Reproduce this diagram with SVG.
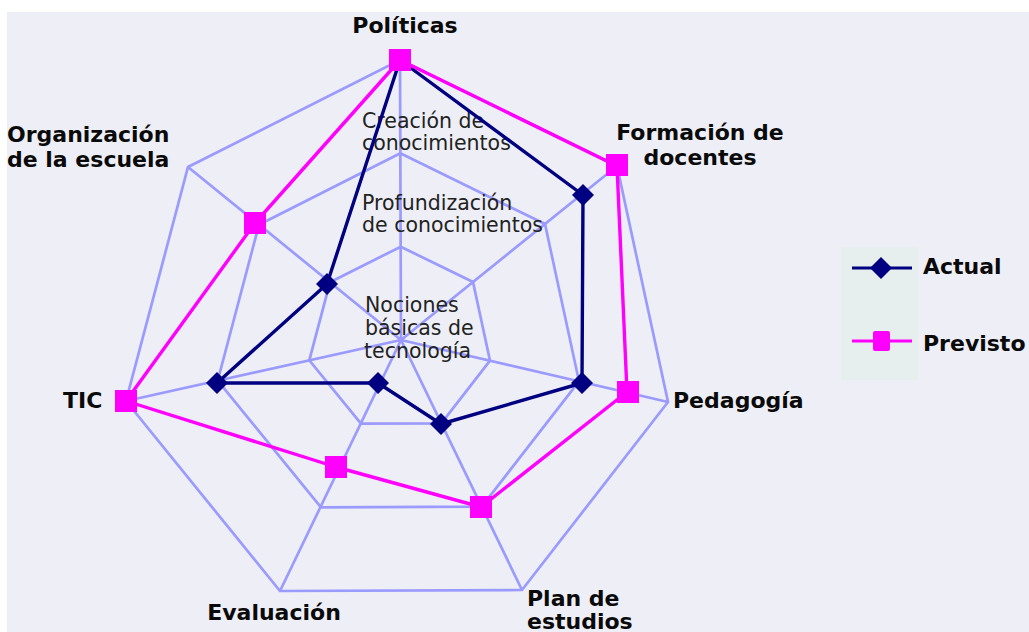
<svg xmlns="http://www.w3.org/2000/svg" width="1029" height="632" viewBox="0 0 1029 632">
<defs>
<style>
.grid{fill:none;stroke:#9a9aff;stroke-width:2.7;stroke-linejoin:miter}
.act{fill:none;stroke:#000080;stroke-width:3.4;stroke-linejoin:round}
.prev{fill:none;stroke:#ff00ff;stroke-width:3.4;stroke-linejoin:round}
.lab{font-family:"DejaVu Sans",Verdana,sans-serif;font-weight:bold;font-size:22px;fill:#0a0a0a}
.lvl{font-family:"DejaVu Sans",Verdana,sans-serif;font-size:20.5px;fill:#222}
</style>
<path id="dia" d="M0,-11 L11,0 L0,11 L-11,0 Z" fill="#000080"/>
<rect id="sq" x="-11" y="-11" width="22" height="22" fill="#ff00ff"/>
</defs>
<rect x="0" y="0" width="1029" height="632" fill="#ffffff"/>
<rect x="7" y="12" width="1022" height="620" fill="#eeeff6"/>

<g id="grid">
<polygon class="grid" points="400,60 617,166 668,402 522,590 280,591 126,401 188,167"/>
<polygon class="grid" points="400.3,153.3 545,224 579,381.3 481.7,506.7 321,507.3 217.7,380.7 259,224.7"/>
<polygon class="grid" points="400.7,246.7 473,282 490,360.7 441.3,423.3 361,423.7 309.3,360.3 330,282.3"/>
<path class="grid" d="M401,340 L400,60 M401,340 L617,166 M401,340 L668,402 M401,340 L522,590 M401,340 L280,591 M401,340 L126,401 M401,340 L188,167"/>
</g>

<g id="level-labels">
<text class="lvl" x="362" y="128">Creación de</text>
<text class="lvl" x="362" y="150">conocimientos</text>
<text class="lvl" x="362" y="210">Profundización</text>
<text class="lvl" x="362" y="232">de conocimientos</text>
<text class="lvl" x="365" y="312">Nociones</text>
<text class="lvl" x="365" y="335">básicas de</text>
<text class="lvl" x="364" y="358">tecnología</text>
</g>

<g id="connectors">
<polygon id="actual-line" class="act" points="400,60 583,195 582,383 441,424 378,383 217,383 327,284"/>
<polygon id="previsto-line" class="prev" points="400,60 617,166 627,392 481,507 336,467 126,401 255,223"/>
</g>

<g id="actual-markers">
<use href="#dia" x="583" y="195"/>
<use href="#dia" x="582" y="383"/>
<use href="#dia" x="441" y="424"/>
<use href="#dia" x="378" y="383"/>
<use href="#dia" x="217" y="383"/>
<use href="#dia" x="327" y="284"/>
</g>

<g id="previsto-markers">
<use href="#sq" x="400" y="60"/>
<use href="#sq" x="617" y="165"/>
<use href="#sq" x="628" y="392"/>
<use href="#sq" x="481" y="507"/>
<use href="#sq" x="336" y="467"/>
<use href="#sq" x="126" y="401"/>
<use href="#sq" x="255" y="223"/>
</g>

<g id="axis-politicas"><text class="lab" x="405" y="33" text-anchor="middle">Políticas</text></g>
<g id="axis-formacion"><text class="lab" x="700" y="140" text-anchor="middle">Formación de</text><text class="lab" x="700" y="165" text-anchor="middle">docentes</text></g>
<g id="axis-pedagogia"><text class="lab" x="673" y="408">Pedagogía</text></g>
<g id="axis-plan"><text class="lab" x="527" y="606">Plan de</text><text class="lab" x="527" y="629">estudios</text></g>
<g id="axis-evaluacion"><text class="lab" x="274" y="620" text-anchor="middle">Evaluación</text></g>
<g id="axis-tic"><text class="lab" x="63" y="408">TIC</text></g>
<g id="axis-organizacion"><text class="lab" x="7" y="142">Organización</text><text class="lab" x="7" y="167">de la escuela</text></g>

<g id="legend">
<rect x="841" y="247" width="77" height="133" fill="#e7eeee"/>
<line x1="852" y1="268" x2="912" y2="268" stroke="#000080" stroke-width="3.2"/>
<use href="#dia" x="881" y="268"/>
<line x1="852" y1="341" x2="912" y2="341" stroke="#ff00ff" stroke-width="3.2"/>
<rect x="873" y="331" width="17" height="20" rx="2" fill="#ff00ff"/>
<text class="lab" x="923" y="274">Actual</text>
<text class="lab" x="923" y="351">Previsto</text>
</g>
</svg>
